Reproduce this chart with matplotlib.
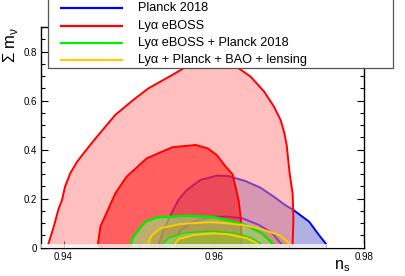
import matplotlib
matplotlib.use("Agg")
import matplotlib.pyplot as plt
from matplotlib.ticker import MultipleLocator
from matplotlib.lines import Line2D
from matplotlib.patches import Rectangle

plt.rcParams['font.family'] = ['Liberation Sans', 'DejaVu Sans']

# ---- contour data (n_s, sum m_nu) ----
planck95_ns = [0.9527, 0.9533, 0.9546, 0.9553, 0.9564, 0.9582, 0.9604, 0.9620, 0.9642, 0.9662, 0.9680, 0.9695, 0.9706, 0.9727, 0.9740, 0.9749]
planck95_mn = [0.017, 0.072, 0.154, 0.195, 0.235, 0.276, 0.294, 0.292, 0.272, 0.245, 0.208, 0.174, 0.154, 0.106, 0.052, 0.017]
planck68_ns = [0.9545, 0.9555, 0.9575, 0.9600, 0.9616, 0.9638, 0.9660, 0.9678, 0.9687, 0.9690]
planck68_mn = [0.017, 0.070, 0.110, 0.126, 0.127, 0.120, 0.093, 0.059, 0.025, 0.017]

lya95_ns = [0.9380, 0.9387, 0.9393, 0.9398, 0.9402, 0.9409, 0.9418, 0.9428, 0.9441, 0.9469, 0.9493, 0.9513, 0.9545, 0.9560,
            0.9580, 0.9600, 0.9620, 0.9633, 0.9649, 0.9667, 0.9680, 0.9689, 0.9694, 0.9697, 0.9701, 0.9705, 0.9706, 0.9705]
lya95_mn = [0.017, 0.086, 0.154, 0.195, 0.249, 0.304, 0.350, 0.390, 0.440, 0.542, 0.603, 0.650, 0.705, 0.732,
            0.755, 0.762, 0.750, 0.732, 0.698, 0.637, 0.576, 0.521, 0.467, 0.420, 0.304, 0.220, 0.120, 0.017]
lya68_ns = [0.9446, 0.9449, 0.9458, 0.9469, 0.9484, 0.9511, 0.9545, 0.9576, 0.9592, 0.9604, 0.9616, 0.9625,
            0.9630, 0.9633, 0.9636, 0.9637]
lya68_mn = [0.017, 0.086, 0.147, 0.222, 0.290, 0.365, 0.410, 0.419, 0.405, 0.378, 0.330, 0.300,
            0.235, 0.195, 0.120, 0.017]

lyapl95_ns = [0.9490, 0.9492, 0.9498, 0.9509, 0.9525, 0.9564, 0.9600, 0.9616, 0.9642, 0.9664, 0.9676, 0.9678]
lyapl95_mn = [0.017, 0.040, 0.065, 0.106, 0.124, 0.130, 0.125, 0.113, 0.093, 0.059, 0.025, 0.017]
lyapl68_ns = [0.9533, 0.9540, 0.9560, 0.9596, 0.9627, 0.9650, 0.9662]
lyapl68_mn = [0.017, 0.040, 0.060, 0.068, 0.060, 0.040, 0.017]

all95_ns = [0.9513, 0.9515, 0.9518, 0.9529, 0.9556, 0.9596, 0.9616, 0.9640, 0.9660, 0.9687, 0.9698, 0.9700]
all95_mn = [0.017, 0.035, 0.052, 0.079, 0.097, 0.104, 0.100, 0.092, 0.079, 0.052, 0.025, 0.017]
all68_ns = [0.9549, 0.9553, 0.9573, 0.9600, 0.9618, 0.9645, 0.9658]
all68_mn = [0.017, 0.035, 0.052, 0.058, 0.055, 0.038, 0.017]

labels = ["Planck 2018", "Ly\u03b1 eBOSS", "Ly\u03b1 eBOSS + Planck 2018", "Ly\u03b1 + Planck + BAO + lensing"]
line_colors = ["#0000ff", "#ff0000", "#00ee00", "#ffcc00"]

xticks = [0.94, 0.96, 0.98]
yticks = [0, 0.2, 0.4, 0.6, 0.8]


def closed(ns, mn):
    # extend contour down to the axis for the fill
    return [ns[0]] + list(ns) + [ns[-1]], [0.0] + list(mn) + [0.0]


fig = plt.figure(figsize=(4.05, 2.76), dpi=100)
ax = fig.add_axes([0.1012, 0.1025, 0.7976, 0.7995])

# Planck
x, y = closed(planck95_ns, planck95_mn)
ax.fill(x, y, color=(0.69, 0.69, 0.89), lw=0, zorder=1)
ax.plot(planck95_ns, planck95_mn, color=line_colors[0], lw=1.4, zorder=2)
ax.plot(planck68_ns, planck68_mn, color=line_colors[0], lw=1.4, zorder=2)

# Lya eBOSS
x, y = closed(lya95_ns, lya95_mn)
ax.fill(x, y, color=(1, 0.5, 0.5), alpha=0.5, lw=0, zorder=3)
x, y = closed(lya68_ns, lya68_mn)
ax.fill(x, y, color=(1, 0, 0), alpha=0.5, lw=0, zorder=3)
ax.plot(lya95_ns, lya95_mn, color=line_colors[1], lw=1.4, zorder=4)
ax.plot(lya68_ns, lya68_mn, color=line_colors[1], lw=1.4, zorder=4)

# Lya + Planck
x, y = closed(lyapl95_ns, lyapl95_mn)
ax.fill(x, y, color=(0.5, 1.0, 0.5), alpha=0.5, lw=0, zorder=5)
x, y = closed(lyapl68_ns, lyapl68_mn)
ax.fill(x, y, color=(0.5, 1.0, 0.5), alpha=0.5, lw=0, zorder=5)
ax.plot(lyapl95_ns, lyapl95_mn, color=line_colors[2], lw=1.8, zorder=6)
ax.plot(lyapl68_ns, lyapl68_mn, color=line_colors[2], lw=1.0, zorder=6)

# Lya + Planck + BAO + lensing
x, y = closed(all95_ns, all95_mn)
ax.fill(x, y, color=(0.62, 0.55, 0.0), alpha=0.22, lw=0, zorder=7)
x, y = closed(all68_ns, all68_mn)
ax.fill(x, y, color=(0.62, 0.55, 0.0), alpha=0.35, lw=0, zorder=7)
ax.plot(all95_ns, all95_mn, color=line_colors[3], lw=1.4, zorder=8)
ax.plot(all68_ns, all68_mn, color=line_colors[3], lw=1.4, zorder=8)

# pale strip at the very bottom
ax.axhspan(0, 0.017, color='white', alpha=0.7, lw=0, zorder=9)

ax.set_xlim(0.937, 0.98)
ax.set_ylim(0, 0.9)
ax.set_xticks(xticks)
ax.set_xticklabels(["0.94", "0.96", "0.98"])
ax.set_yticks(yticks)
ax.set_yticklabels(["0", "0.2", "0.4", "0.6", "0.8"])
ax.xaxis.set_minor_locator(MultipleLocator(0.005))
ax.yaxis.set_minor_locator(MultipleLocator(0.05))
ax.tick_params(which='both', direction='in', top=True, right=True, labelsize=7, pad=3)
ax.tick_params(which='major', length=5, width=0.8)
ax.tick_params(which='minor', length=3, width=0.8)
for s in ax.spines.values():
    s.set_linewidth(1.0)

fig.text(342 / 405, 1 - 266 / 276, r"n$_\mathregular{s}$", fontsize=11.5, ha='center', va='center')
fig.text(11 / 405, 1 - 45 / 276, "\u03a3 m$_\\mathregular{\u03bd}$", fontsize=12, ha='center', va='center', rotation=90)

# legend box (drawn in figure pixel fractions)
W, H = 405.0, 276.0
fig.add_artist(Rectangle((48 / W, 1 - 68 / H), (393 - 48) / W, 68 / H + 0.01, transform=fig.transFigure,
                         facecolor='white', edgecolor='#555555', lw=0.9, zorder=20, clip_on=False))
for i, (lab, c) in enumerate(zip(labels, line_colors)):
    yy = 1 - (8.3 + 17.3 * i) / H
    fig.add_artist(Line2D([61 / W, 122 / W], [yy, yy], transform=fig.transFigure, color=c, lw=1.6, zorder=21))
    fig.text(138 / W, yy, lab, fontsize=9.2, ha='left', va='center', zorder=22)

fig.savefig("out.png", dpi=100)
